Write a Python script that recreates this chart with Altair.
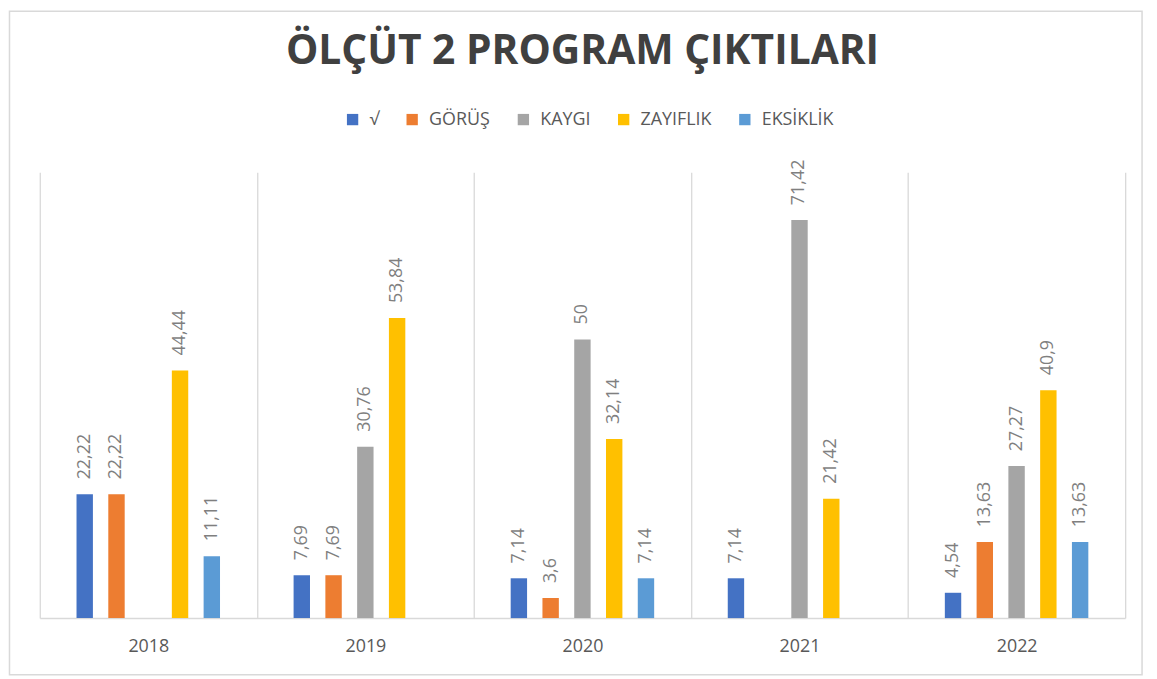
import altair as alt
import pandas as pd

years = ["2018", "2019", "2020", "2021", "2022"]
series = ["√", "GÖRÜŞ", "KAYGI", "ZAYIFLIK", "EKSİKLİK"]
colors = ["#4472C4", "#ED7D31", "#A5A5A5", "#FFC000", "#5B9BD5"]

# None = no bar in that year
v_tick = [22.22, 7.69, 7.14, 7.14, 4.54]
v_gorus = [22.22, 7.69, 3.6, None, 13.63]
v_kaygi = [None, 30.76, 50, 71.42, 27.27]
v_zayif = [44.44, 53.84, 32.14, 21.42, 40.9]
v_eksik = [11.11, None, 7.14, None, 13.63]

title_text = "ÖLÇÜT 2 PROGRAM ÇIKTILARI"

rows = []
for s, vals in zip(series, [v_tick, v_gorus, v_kaygi, v_zayif, v_eksik]):
    for y, v in zip(years, vals):
        if v is not None:
            rows.append({"year": y, "series": s, "value": v})
df = pd.DataFrame(rows)

FONT = "Open Sans"
W, H = 1093, 449

base = alt.Chart(df).encode(
    x=alt.X(
        "year:N",
        sort=years,
        scale=alt.Scale(paddingInner=0, paddingOuter=0),
        axis=alt.Axis(
            title=None,
            labelAngle=0,
            ticks=False,
            tickBand="extent",
            grid=True,
            gridColor="#d9d9d9",
            gridWidth=1.3,
            domainColor="#d9d9d9",
            domainWidth=1.5,
            labelFont=FONT,
            labelFontSize=18,
            labelColor="#595959",
            labelPadding=20,
        ),
    ),
    xOffset=alt.XOffset(
        "series:N",
        sort=series,
        scale=alt.Scale(domain=series, range=[37, 181.5], paddingInner=0.484, paddingOuter=0),
    ),
    y=alt.Y("value:Q", scale=alt.Scale(domain=[0, 80]), axis=None),
)

bars = base.mark_bar().encode(
    color=alt.Color(
        "series:N",
        sort=series,
        scale=alt.Scale(domain=series, range=colors),
        legend=alt.Legend(
            title=None,
            orient="none",
            direction="horizontal",
            legendX=306,
            legendY=-62,
            symbolType="square",
            symbolSize=130,
            symbolStrokeWidth=0,
            labelFont=FONT,
            labelFontSize=18,
            labelColor="#595959",
            labelOffset=8,
            columnPadding=24,
        ),
    )
)

labels = base.transform_calculate(
    label="replace(toString(datum.value), '.', ',')"
).mark_text(
    angle=270,
    align="left",
    baseline="middle",
    dx=15,
    font=FONT,
    fontSize=18,
    color="#7f7f7f",
).encode(text="label:N")

frame = alt.Chart(pd.DataFrame({"f": [0]})).mark_rect(
    fill="transparent", stroke="#d9d9d9", strokeWidth=1.5
).encode(
    x=alt.value(-30.5), x2=alt.value(1110), y=alt.value(-162), y2=alt.value(506)
)

chart = alt.layer(frame, bars, labels).properties(
    width=W,
    height=H,
    autosize=alt.AutoSizeParams(type="none"),
    padding={"left": 32, "top": 163, "right": 24, "bottom": 60},
    title=alt.TitleParams(
        title_text,
        font=FONT,
        fontSize=41,
        fontWeight="bold",
        color="#404040",
        anchor="middle",
        baseline="alphabetic",
        offset=-95,
    ),
).configure_view(stroke=None)

chart.save("out.html", embed_options={"renderer": "svg", "actions": False})
